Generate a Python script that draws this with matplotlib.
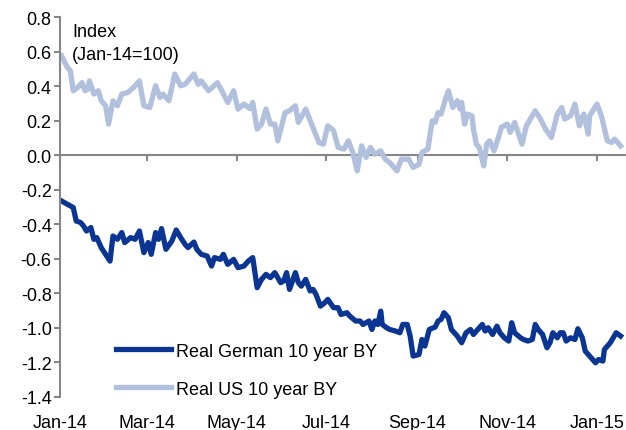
import numpy as np
import matplotlib
matplotlib.use('Agg')
import matplotlib.pyplot as plt
import matplotlib.dates as mdates

plt.rcParams['font.family'] = ['Liberation Sans', 'DejaVu Sans']

# days after 1 Jan 2014
us_days = [1, 5, 7, 9, 12, 15, 17, 19, 20, 23, 26, 28, 31, 33, 36, 39, 42, 46, 50, 54,
           57, 61, 65, 68, 70, 74, 78, 82, 85, 91, 94, 96, 101, 107, 110, 114, 118, 121, 125, 129,
           131, 134, 137, 140, 143, 146, 148, 153, 156, 160, 162, 167, 171, 176, 179, 182, 186, 189, 193, 196,
           199, 202, 205, 208, 211, 214, 218, 221, 224, 229, 232, 237, 240, 244, 246, 250, 253, 255, 257, 259,
           262, 264, 267, 270, 272, 273, 275, 277, 280, 281, 283, 285, 288, 290, 292, 295, 298, 300, 304, 306,
           309, 314, 317, 323, 326, 330, 334, 338, 341, 343, 347, 350, 353, 356, 359, 360, 365, 368, 372, 375,
           377, 381]
us_vals = [0.576, 0.508, 0.489, 0.373, 0.392, 0.42, 0.373, 0.383, 0.43, 0.354, 0.373, 0.315, 0.286, 0.18, 0.315, 0.286, 0.354, 0.363, 0.392, 0.43,
           0.286, 0.276, 0.402, 0.334, 0.354, 0.315, 0.47, 0.402, 0.41, 0.47, 0.41, 0.43, 0.373, 0.42, 0.373, 0.305, 0.373, 0.267, 0.296, 0.27,
           0.305, 0.151, 0.18, 0.267, 0.18, 0.18, 0.083, 0.247, 0.257, 0.286, 0.19, 0.267, 0.18, 0.073, 0.064, 0.17, 0.141, 0.045, 0.035, 0.083,
           0.016, -0.091, 0.054, -0.013, 0.045, 0.006, 0.025, -0.023, -0.042, -0.091, -0.023, -0.023, -0.071, -0.052, 0.016, 0.035, 0.199, 0.19, 0.247, 0.238,
           0.325, 0.373, 0.276, 0.315, 0.267, 0.305, 0.18, 0.238, 0.228, 0.151, 0.064, 0.045, -0.062, 0.064, 0.083, 0.025, 0.103, 0.161, 0.18, 0.132,
           0.19, 0.064, 0.17, 0.257, 0.218, 0.151, 0.103, 0.238, 0.276, 0.209, 0.228, 0.296, 0.17, 0.238, 0.122, 0.228, 0.296, 0.228, 0.083, 0.074,
           0.093, 0.054]

de_days = [1, 5, 7, 9, 11, 14, 16, 18, 21, 23, 25, 28, 31, 34, 36, 39, 42, 44, 48, 51,
           54, 57, 60, 62, 65, 67, 69, 72, 76, 79, 82, 85, 87, 91, 93, 96, 100, 103, 105, 109,
           111, 114, 118, 121, 125, 128, 131, 134, 137, 140, 143, 146, 150, 152, 154, 156, 160, 162, 164, 167,
           170, 172, 174, 177, 180, 182, 186, 189, 191, 195, 197, 201, 204, 206, 210, 212, 214, 216, 218, 219,
           222, 224, 228, 231, 233, 236, 238, 240, 244, 246, 248, 251, 255, 257, 259, 261, 264, 266, 270, 273,
           276, 279, 281, 283, 287, 289, 291, 294, 297, 299, 302, 305, 307, 309, 313, 315, 318, 321, 323, 325,
           328, 331, 333, 335, 338, 340, 342, 344, 347, 350, 352, 355, 357, 360, 364, 366, 369, 370, 374, 376,
           378, 381]
de_vals = [-0.265, -0.284, -0.294, -0.303, -0.381, -0.39, -0.41, -0.439, -0.419, -0.487, -0.477, -0.535, -0.574, -0.613, -0.468, -0.487, -0.448, -0.506, -0.477, -0.487,
           -0.439, -0.564, -0.506, -0.574, -0.448, -0.487, -0.425, -0.545, -0.497, -0.433, -0.477, -0.516, -0.535, -0.503, -0.545, -0.574, -0.584, -0.642, -0.593, -0.603,
           -0.574, -0.632, -0.603, -0.651, -0.642, -0.613, -0.593, -0.767, -0.719, -0.69, -0.709, -0.68, -0.738, -0.728, -0.68, -0.777, -0.68, -0.738, -0.758, -0.719,
           -0.786, -0.777, -0.806, -0.874, -0.854, -0.835, -0.883, -0.883, -0.922, -0.912, -0.932, -0.96, -0.96, -0.98, -0.96, -1.009, -0.96, -0.98, -0.903, -0.98,
           -0.999, -1.009, -1.018, -1.028, -0.98, -0.98, -1.047, -1.163, -1.154, -1.067, -1.105, -1.009, -0.995, -0.96, -0.951, -0.912, -0.941, -1.009, -1.047, -1.086,
           -1.028, -1.009, -1.038, -1.018, -0.98, -1.018, -0.999, -1.038, -0.99, -1.028, -1.057, -1.076, -0.97, -1.028, -1.057, -1.067, -1.076, -1.067, -0.98, -1.009,
           -1.038, -1.115, -1.086, -1.028, -1.057, -1.028, -1.028, -1.076, -1.057, -1.067, -1.005, -1.057, -1.134, -1.163, -1.202, -1.183, -1.192, -1.125, -1.086, -1.057,
           -1.028, -1.047]

tick_labels = ['Jan-14', 'Mar-14', 'May-14', 'Jul-14', 'Sep-14', 'Nov-14', 'Jan-15']
tick_dates = ['2014-01-01', '2014-03-01', '2014-05-01', '2014-07-01', '2014-09-01', '2014-11-01', '2015-01-01']
y_ticks = [-1.4, -1.2, -1.0, -0.8, -0.6, -0.4, -0.2, 0.0, 0.2, 0.4, 0.6, 0.8]

start = np.datetime64('2014-01-01')
x0 = mdates.date2num(start)
us_x = x0 + np.array(us_days)
de_x = x0 + np.array(de_days)
tick_x = [mdates.date2num(np.datetime64(d)) for d in tick_dates]

gray = '#868686'
dark = '#0B3593'
light = '#B0C0DD'
fs = 13

fig = plt.figure(figsize=(6.26, 4.31), dpi=100)
ax = fig.add_axes([60 / 626, 1 - 398 / 431, 1 - 60 / 626, 380 / 431])

ax.plot(de_x, de_vals, color=dark, lw=3.8, solid_joinstyle='round', label='Real German 10 year BY')
ax.plot(us_x, us_vals, color=light, lw=3.8, solid_joinstyle='round', label='Real US 10 year BY')

ax.set_ylim(-1.4, 0.8)
ax.set_xlim(x0, x0 + 384.7)
ax.set_yticks(y_ticks)
ax.set_yticklabels(['%.1f' % v for v in y_ticks])

for s in ['top', 'right']:
    ax.spines[s].set_visible(False)
ax.spines['left'].set_color(gray)
ax.spines['left'].set_linewidth(1.5)
ax.spines['bottom'].set_position(('data', 0))
ax.spines['bottom'].set_color(gray)
ax.spines['bottom'].set_linewidth(1.5)
ax.spines['bottom'].set_zorder(0.5)

ax.set_xticks(tick_x)
ax.tick_params(axis='x', direction='out', length=4.5, width=1.5, color=gray, labelbottom=False)
ax.tick_params(axis='y', direction='out', length=4, width=1.5, color=gray, labelsize=fs, pad=2)

sec = ax.secondary_xaxis('bottom')
sec.set_xticks(tick_x, tick_labels)
sec.spines['bottom'].set_visible(False)
sec.tick_params(length=0, labelsize=fs, pad=12.5)

ax.text(12 / 566, 1.0 - 6 / 380, 'Index\n(Jan-14=100)', transform=ax.transAxes, ha='left', va='top',
        fontsize=fs, linespacing=1.45)

ax.legend(loc='lower left', bbox_to_anchor=(0.08, -0.03), frameon=False, fontsize=fs,
          handlelength=3.05, handletextpad=0.28, labelspacing=1.15, borderaxespad=0.2)

fig.savefig('out.png', dpi=100)
